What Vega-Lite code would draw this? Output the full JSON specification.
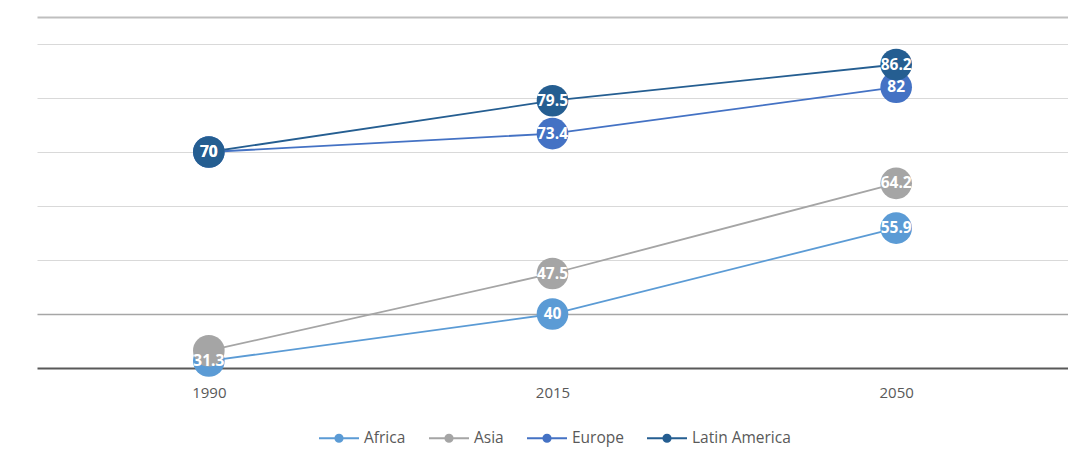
{
  "$schema": "https://vega.github.io/schema/vega-lite/v6.json",
  "width": 1031,
  "height": 351,
  "autosize": "none",
  "padding": {"left": 37, "top": 17, "right": 0, "bottom": 94},
  "background": "white",
  "config": {"view": {"stroke": null}, "font": "Open Sans"},
  "data": {
    "values": [
      {"series": "Africa", "year": "1990", "value": 31.3},
      {"series": "Africa", "year": "2015", "value": 40},
      {"series": "Africa", "year": "2050", "value": 55.9},
      {"series": "Asia", "year": "1990", "value": 33.2},
      {"series": "Asia", "year": "2015", "value": 47.5},
      {"series": "Asia", "year": "2050", "value": 64.2},
      {"series": "Europe", "year": "1990", "value": 70},
      {"series": "Europe", "year": "2015", "value": 73.4},
      {"series": "Europe", "year": "2050", "value": 82},
      {"series": "Latin America", "year": "1990", "value": 70},
      {"series": "Latin America", "year": "2015", "value": 79.5},
      {"series": "Latin America", "year": "2050", "value": 86.2}
    ]
  },
  "encoding": {
    "x": {
      "field": "year", "type": "ordinal",
      "scale": {"type": "point", "padding": 0.5},
      "axis": {"title": null, "labelAngle": 0, "ticks": false, "domain": false, "grid": false,
               "labelFontSize": 15, "labelColor": "#595959", "labelPadding": 17, "labelFont": "Open Sans"}
    },
    "y": {
      "field": "value", "type": "quantitative",
      "scale": {"domain": [30, 95], "nice": false, "zero": false},
      "axis": {
        "title": null, "labels": false, "ticks": false, "domain": false,
        "values": [30, 40, 50, 60, 70, 80, 90, 95],
        "gridColor": {"condition": [
          {"test": "datum.value === 30", "value": "#595959"},
          {"test": "datum.value === 40", "value": "#a6a6a6"},
          {"test": "datum.value === 95", "value": "#bfbfbf"}
        ], "value": "#d9d9d9"},
        "gridWidth": {"condition": [
          {"test": "datum.value === 30", "value": 2},
          {"test": "datum.value === 40", "value": 1.5},
          {"test": "datum.value === 95", "value": 2}
        ], "value": 1}
      }
    },
    "color": {
      "field": "series", "type": "nominal",
      "scale": {"domain": ["Africa", "Asia", "Europe", "Latin America"],
                "range": ["#5b9bd5", "#a5a5a5", "#4472c4", "#255e91"]},
      "legend": {
        "title": null, "orient": "none", "direction": "horizontal", "columns": 4,
        "legendX": 281, "legendY": 400,
        "symbolType": "M-1,0H1M-0.18,0A0.18,0.18,0,1,1,0.18,0A0.18,0.18,0,1,1,-0.18,0Z",
        "symbolSize": 1600, "symbolStrokeWidth": 2,
        "labelFontSize": 15.5, "labelColor": "#595959", "labelFont": "Open Sans",
        "labelOffset": 4, "columnPadding": 19,
        "encode": {"symbols": {"update": {"fill": {"scale": "color", "field": "value"}, "fillOpacity": {"value": 1}}}}
      }
    }
  },
  "layer": [
    {"mark": {"type": "line", "strokeWidth": 1.8}},
    {"mark": {"type": "point", "filled": true, "size": 1000, "opacity": 1}},
    {
      "transform": [{"filter": "!(datum.series === 'Asia' && datum.year === '1990')"}],
      "mark": {"type": "text", "color": "white", "fontSize": 15.5, "fontWeight": "bold", "font": "Open Sans", "baseline": "middle", "align": "center"},
      "encoding": {"text": {"field": "value", "type": "quantitative"}, "color": {"value": "white"}}
    }
  ]
}
